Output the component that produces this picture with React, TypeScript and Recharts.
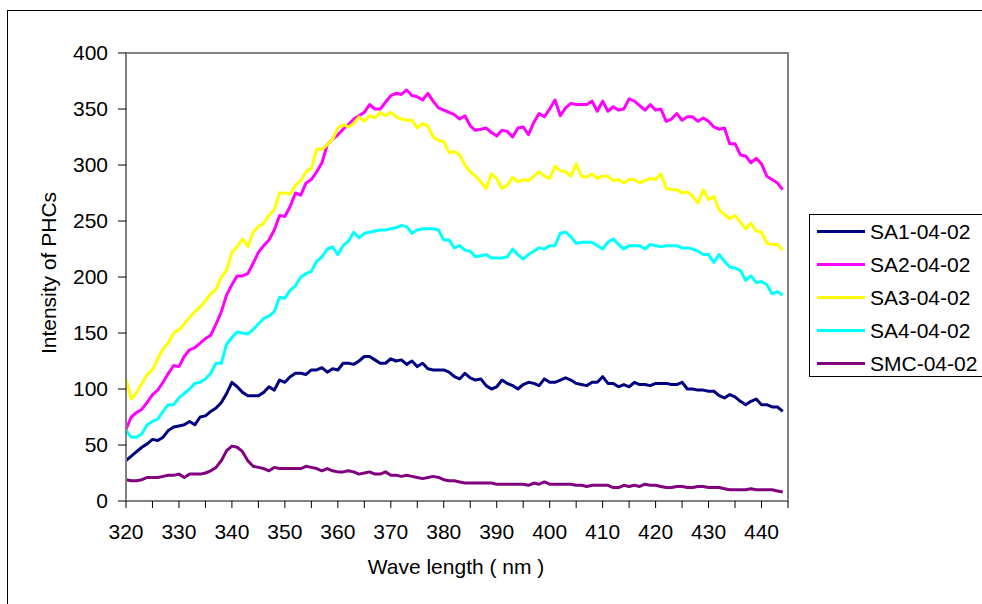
import React from 'react';
import { LineChart, Line, XAxis, YAxis, Legend, ReferenceArea, Label } from 'recharts';

const FONT = '"Liberation Sans", Arial, sans-serif';
const FS = 21;

// wavelength categories (nm)
const WAVELENGTHS = [
  320, 321, 322, 323, 324, 325, 326, 327, 328, 329,
  330, 331, 332, 333, 334, 335, 336, 337, 338, 339,
  340, 341, 342, 343, 344, 345, 346, 347, 348, 349,
  350, 351, 352, 353, 354, 355, 356, 357, 358, 359,
  360, 361, 362, 363, 364, 365, 366, 367, 368, 369,
  370, 371, 372, 373, 374, 375, 376, 377, 378, 379,
  380, 381, 382, 383, 384, 385, 386, 387, 388, 389,
  390, 391, 392, 393, 394, 395, 396, 397, 398, 399,
  400, 401, 402, 403, 404, 405, 406, 407, 408, 409,
  410, 411, 412, 413, 414, 415, 416, 417, 418, 419,
  420, 421, 422, 423, 424, 425, 426, 427, 428, 429,
  430, 431, 432, 433, 434, 435, 436, 437, 438, 439,
  440, 441, 442, 443, 444,
];

const SA1 = [
  36, 40, 44, 48, 51, 55, 54, 57, 63, 66,
  67, 68, 71, 68, 75, 76, 80, 83, 88, 96,
  106, 102, 97, 94, 94, 94, 97, 102, 99, 108,
  106, 111, 114, 114, 113, 117, 117, 119, 115, 118,
  117, 123, 123, 122, 125, 129, 129, 126, 123, 123,
  127, 125, 126, 122, 125, 120, 123, 118, 117, 117,
  117, 115, 111, 109, 114, 110, 108, 109, 103, 100,
  102, 108, 105, 103, 100, 104, 106, 105, 103, 109,
  106, 106, 108, 110, 108, 105, 104, 103, 106, 106,
  111, 105, 105, 102, 104, 102, 106, 104, 104, 103,
  105, 105, 105, 104, 104, 106, 100, 100, 99, 99,
  98, 98, 94, 92, 95, 93, 89, 86, 89, 91,
  86, 86, 84, 84, 80,
];

const SA2 = [
  64, 75, 79, 82, 88, 95, 99, 106, 114, 121,
  120, 129, 135, 137, 141, 145, 148, 158, 169, 184,
  193, 201, 201, 203, 212, 222, 228, 233, 242, 255,
  254, 263, 275, 273, 284, 287, 294, 302, 318, 323,
  327, 332, 336, 341, 344, 347, 354, 350, 350, 356,
  362, 364, 363, 367, 362, 361, 358, 364, 357, 351,
  349, 347, 345, 341, 344, 335, 331, 332, 333, 329,
  326, 331, 330, 325, 333, 334, 327, 338, 346, 343,
  350, 358, 344, 351, 355, 354, 354, 354, 357, 348,
  357, 348, 352, 349, 350, 359, 357, 353, 349, 354,
  349, 350, 339, 341, 346, 340, 343, 343, 339, 342,
  339, 334, 332, 333, 319, 319, 309, 308, 302, 306,
  301, 290, 287, 284, 278,
];

const SA3 = [
  109, 91, 97, 105, 113, 117, 127, 136, 141, 150,
  153, 158, 164, 169, 173, 179, 185, 189, 200, 206,
  222, 227, 234, 227, 240, 245, 248, 255, 260, 275,
  275, 274, 282, 286, 294, 297, 314, 314, 318, 323,
  333, 336, 334, 337, 343, 339, 344, 342, 347, 344,
  347, 343, 341, 340, 340, 333, 337, 335, 325, 322,
  321, 311, 312, 309, 300, 294, 290, 285, 279, 292,
  288, 279, 282, 289, 285, 287, 286, 290, 294, 290,
  288, 299, 295, 294, 290, 301, 290, 289, 292, 288,
  290, 290, 286, 287, 284, 287, 287, 284, 286, 288,
  287, 292, 279, 278, 278, 275, 276, 272, 266, 278,
  269, 272, 260, 256, 252, 255, 249, 243, 248, 241,
  240, 230, 229, 229, 224,
];

const SA4 = [
  63, 57, 57, 60, 68, 71, 73, 80, 86, 86,
  92, 96, 100, 105, 106, 109, 114, 123, 123, 140,
  146, 151, 150, 149, 153, 158, 163, 165, 169, 182,
  181, 188, 192, 200, 203, 205, 214, 218, 225, 227,
  220, 228, 232, 240, 235, 239, 240, 241, 242, 242,
  243, 244, 246, 245, 239, 242, 243, 243, 243, 242,
  233, 233, 226, 228, 224, 223, 218, 219, 220, 217,
  217, 217, 218, 225, 220, 216, 220, 223, 226, 225,
  228, 228, 239, 240, 236, 230, 231, 231, 231, 228,
  225, 231, 234, 229, 225, 228, 228, 228, 225, 229,
  228, 227, 228, 228, 228, 226, 226, 225, 223, 220,
  220, 213, 220, 214, 209, 208, 206, 197, 201, 195,
  196, 193, 185, 187, 184,
];

const SMC = [
  19, 18, 18, 19, 21, 21, 21, 22, 23, 23,
  24, 21, 24, 24, 24, 25, 27, 30, 36, 45,
  49, 48, 44, 36, 31, 30, 29, 27, 30, 29,
  29, 29, 29, 29, 31, 30, 29, 27, 29, 27,
  26, 26, 27, 26, 24, 25, 26, 24, 24, 26,
  23, 23, 22, 23, 22, 21, 20, 21, 22, 21,
  19, 18, 18, 17, 16, 16, 16, 16, 16, 16,
  15, 15, 15, 15, 15, 15, 14, 16, 15, 17,
  15, 15, 15, 15, 15, 14, 14, 13, 14, 14,
  14, 14, 12, 12, 14, 13, 14, 13, 15, 14,
  14, 13, 12, 12, 13, 13, 12, 12, 13, 13,
  12, 12, 12, 11, 10, 10, 10, 10, 11, 10,
  10, 10, 10, 9, 8,
];

const X_TICKS = [320, 325, 330, 335, 340, 345, 350, 355, 360, 365, 370, 375, 380, 385, 390, 395, 400, 405, 410, 415, 420, 425, 430, 435, 440, 445];
const Y_TICKS = [0, 50, 100, 150, 200, 250, 300, 350, 400];

const SERIES = [
  { key: 'sa1', name: 'SA1-04-02', color: '#000080', values: SA1 },
  { key: 'sa2', name: 'SA2-04-02', color: '#FF00FF', values: SA2 },
  { key: 'sa3', name: 'SA3-04-02', color: '#FFFF00', values: SA3 },
  { key: 'sa4', name: 'SA4-04-02', color: '#00FFFF', values: SA4 },
  { key: 'smc', name: 'SMC-04-02', color: '#800080', values: SMC },
];

const data = WAVELENGTHS.map((nm, i) => {
  const row: Record<string, number> = { nm };
  SERIES.forEach((s) => {
    row[s.key] = s.values[i];
  });
  return row;
});

function LegendBox(props: any) {
  const items = props.payload || [];
  return (
    <div
      style={{
        border: '1px solid #000',
        background: '#fff',
        width: 190,
        height: 163,
        boxSizing: 'border-box',
        fontFamily: FONT,
      }}
    >
      {items.map((p: any) => (
        <div key={p.value} style={{ display: 'flex', alignItems: 'center', height: 33 }}>
          <span style={{ display: 'inline-block', width: 48, height: 3, background: p.color, marginLeft: 7, marginRight: 5 }} />
          <span style={{ fontSize: FS, color: '#000', lineHeight: `${FS}px` }}>{p.value}</span>
        </div>
      ))}
    </div>
  );
}

const yTitle = () => {
  const cx = 48;
  const cy = 273;
  return (
    <text
      x={cx}
      y={cy}
      transform={`rotate(-90, ${cx}, ${cy})`}
      textAnchor="middle"
      dominantBaseline="central"
      fontSize={FS}
      fontFamily={FONT}
      fill="#000"
    >
      Intensity of PHCs
    </text>
  );
};

const xTitle = () => (
  <text x={456} y={574} textAnchor="middle" fontSize={FS} fontFamily={FONT} fill="#000">
    Wave length ( nm )
  </text>
);

export default function App() {
  return (
    <div style={{ position: 'absolute', left: 0, top: 0, width: 982, height: 604, overflow: 'hidden', background: '#fff' }}>
      <div
        style={{
          position: 'absolute',
          left: 7,
          top: 10,
          width: 1000,
          height: 700,
          border: '1px solid #000',
        }}
      />
      <div style={{ position: 'absolute', left: 0, top: 0 }}>
        <LineChart width={982} height={604} data={data} margin={{ top: 53, right: 194, left: 0, bottom: 0 }}>
          <ReferenceArea x1={320} x2={445} y1={0} y2={400} fill="none" stroke="#808080" strokeWidth={2} />
          <XAxis
            dataKey="nm"
            type="number"
            domain={[320, 445]}
            ticks={X_TICKS}
            interval={0}
            height={103}
            tickSize={7}
            tickMargin={16}
            tickFormatter={(v: number) => (v % 10 === 0 && v < 445 ? String(v) : '')}
            axisLine={{ stroke: '#808080', strokeWidth: 2 }}
            tickLine={{ stroke: '#000' }}
            tick={{ fill: '#000', fontSize: FS, fontFamily: FONT }}
          >
            <Label content={xTitle} value="Wave length ( nm )" />
          </XAxis>
          <YAxis
            type="number"
            domain={[0, 400]}
            ticks={Y_TICKS}
            interval={0}
            width={126}
            tickSize={8}
            tickMargin={10}
            axisLine={{ stroke: '#808080', strokeWidth: 2 }}
            tickLine={{ stroke: '#000' }}
            tick={{ fill: '#000', fontSize: FS, fontFamily: FONT }}
          >
            <Label content={yTitle} value="Intensity of PHCs" />
          </YAxis>
          {SERIES.map((s) => (
            <Line
              key={s.key}
              type="linear"
              dataKey={s.key}
              name={s.name}
              stroke={s.color}
              strokeWidth={3}
              strokeLinejoin="round"
              dot={false}
              activeDot={false}
              isAnimationActive={false}
            />
          ))}
          <Legend
            layout="vertical"
            align="center"
            verticalAlign="middle"
            wrapperStyle={{ left: 809, top: 214, width: 190 }}
            content={<LegendBox />}
          />
        </LineChart>
      </div>
    </div>
  );
}
